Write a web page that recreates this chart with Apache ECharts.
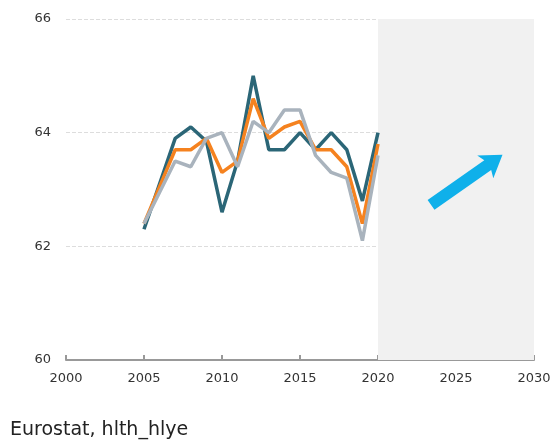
<!DOCTYPE html>
<html>
<head>
<meta charset="utf-8">
<script src="https://cdn.jsdelivr.net/npm/echarts@6/dist/echarts.min.js"></script>
<style>
  html, body { margin: 0; padding: 0; background: #fff; }
  #main { width: 555px; height: 443px; }
</style>
</head>
<body>
<div id="main"></div>
<script>
var years = [2005, 2006, 2007, 2008, 2009, 2010, 2011, 2012, 2013, 2014, 2015, 2016, 2017, 2018, 2019, 2020];
// three series
var darkVals   = [62.3, 63.1, 63.9, 64.1, 63.85, 62.6, 63.5, 65.0, 63.7, 63.7, 64.0, 63.7, 64.0, 63.7, 62.8, 64.0];
var orangeVals = [62.4, 63.05, 63.7, 63.7, 63.9, 63.3, 63.5, 64.6, 63.9, 64.1, 64.2, 63.7, 63.7, 63.4, 62.4, 63.8];
var greyVals   = [62.4, 62.95, 63.5, 63.4, 63.9, 64.0, 63.4, 64.2, 64.0, 64.4, 64.4, 63.6, 63.3, 63.2, 62.1, 63.6];
var xTicks = [2000, 2030];
var yTicks = [60, 66];
var forecastSpan = [2020, 2030];
// trend arrow, tail -> tip
var trendArrow = [[2023.4, 62.73], [2027.98, 63.61]];
var source = 'Eurostat, hlth_hlye';

function pairs(vals) {
    var res = [];
    for (var i = 0; i < years.length; i++) {
        res.push([years[i], vals[i]]);
    }
    return res;
}

var chart = echarts.init(document.getElementById('main'));

var lineBase = {
    type: 'line',
    symbol: 'none',
    smooth: false,
    silent: true,
    animation: false
};

// arrow polygon built in pixel space from the two data points
function renderArrow(params, api) {
    var a = api.coord([api.value(0), api.value(1)]);
    var b = api.coord([api.value(2), api.value(3)]);
    var dx = b[0] - a[0], dy = b[1] - a[1];
    var len = Math.sqrt(dx * dx + dy * dy);
    var ux = dx / len, uy = dy / len;
    var nx = -uy, ny = ux;
    var shaft = 6, head = 14, headLen = 18, notch = 3;
    function p(along, side) {
        return [a[0] + ux * along + nx * side, a[1] + uy * along + ny * side];
    }
    var base = len - headLen;
    return {
        type: 'polygon',
        shape: {
            points: [
                p(0, -shaft), p(base, -shaft), p(base - notch, -head),
                p(len, 0),
                p(base - notch, head), p(base, shaft), p(0, shaft)
            ]
        },
        style: { fill: '#0fb0ea' }
    };
}

option = {
    animation: false,
    textStyle: { fontFamily: 'DejaVu Sans' },
    grid: { left: 66, right: 21, top: 19, bottom: 83 },
    title: {
        text: source,
        left: 5,
        top: 416,
        textStyle: { fontFamily: 'DejaVu Sans', fontSize: 19, fontWeight: 'normal', color: '#222' }
    },
    xAxis: {
        type: 'value',
        min: xTicks[0],
        max: xTicks[1],
        interval: 5,
        axisLine: { lineStyle: { color: '#999', width: 2 } },
        axisTick: { inside: true, length: 5, lineStyle: { color: '#999', width: 2 } },
        axisLabel: {
            color: '#333', fontSize: 13, margin: 12,
            formatter: function (v) { return String(v); }
        },
        splitLine: { show: false }
    },
    yAxis: {
        type: 'value',
        min: yTicks[0],
        max: yTicks[1],
        interval: 2,
        axisLine: { show: false },
        axisTick: { show: false },
        axisLabel: { color: '#333', fontSize: 13, margin: 15 },
        splitLine: { lineStyle: { color: '#ddd', type: 'dashed', width: 1 } }
    },
    series: [
        Object.assign({}, lineBase, {
            name: 'forecast',
            data: [],
            markArea: {
                silent: true,
                itemStyle: { color: '#f1f1f1' },
                data: [[{ xAxis: forecastSpan[0], yAxis: yTicks[1] }, { xAxis: forecastSpan[1], yAxis: yTicks[0] }]]
            }
        }),
        {
            name: 'trend',
            type: 'custom',
            silent: true,
            renderItem: renderArrow,
            data: [[trendArrow[0][0], trendArrow[0][1], trendArrow[1][0], trendArrow[1][1]]],
            encode: { x: [0, 2], y: [1, 3] },
            z: 3
        },
        Object.assign({}, lineBase, {
            name: 'dark',
            data: pairs(darkVals),
            lineStyle: { color: '#2b6677', width: 3.5 }
        }),
        Object.assign({}, lineBase, {
            name: 'orange',
            data: pairs(orangeVals),
            lineStyle: { color: '#f5821f', width: 3.5 }
        }),
        Object.assign({}, lineBase, {
            name: 'grey',
            data: pairs(greyVals),
            lineStyle: { color: '#a9b3bd', width: 3.5 }
        })
    ]
};
chart.setOption(option);
window.onresize = chart.resize;
</script>
</body>
</html>
